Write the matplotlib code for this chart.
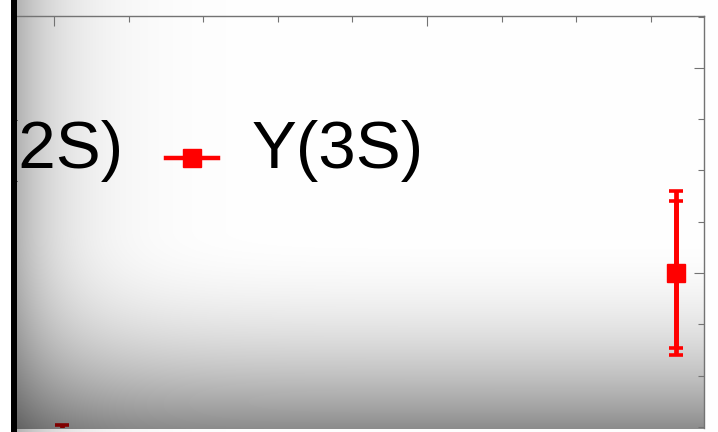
import numpy as np
import matplotlib
matplotlib.use("Agg")
import matplotlib.pyplot as plt
from matplotlib.lines import Line2D
from matplotlib.patches import Rectangle
from matplotlib.ticker import MultipleLocator

plt.rcParams["font.family"] = ["Liberation Sans", "DejaVu Sans"]

# values read off the crop (no tick labels visible, so axis units are relative)
states = ["Y(2S)", "Y(3S)"]
colors = ["#800000", "#ff0000"]
x_vals = [102.1, 266.8]
y_vals = [0.160, 0.400]
stat_lo = [0.080, 0.073]
stat_hi = [0.080, 0.070]
tot_err = [0.092, 0.080]

W, H = 718, 432
fig = plt.figure(figsize=(W / 100, H / 100), dpi=100)

# grey vignette behind the pad
xx = np.arange(W)[None, :]
yy = np.arange(H)[:, None]
left = 0.30 * np.exp(-(xx - 17) / 48.0) * (xx >= 17)
bottom = 0.45 * np.clip((yy - 230) / 198.0, 0, 1) ** 2 * ((xx >= 17) & (xx <= 704) & (yy <= 428))
g = (1 - left) * (1 - bottom)
img = np.dstack([g, g, g])
fig.figimage(img, xo=0, yo=0, origin="upper", zorder=-1)

ax = fig.add_axes([17 / W, 1 - 428 / H, (704 - 17) / W, (428 - 16) / H])
ax.set_facecolor("none")
ax.set_xlim(90.08, 274.26)
ax.set_ylim(0.2488, 0.6507)
ax.xaxis.set_major_locator(MultipleLocator(100))
ax.xaxis.set_minor_locator(MultipleLocator(20))
ax.yaxis.set_major_locator(MultipleLocator(0.2))
ax.yaxis.set_minor_locator(MultipleLocator(0.05))
for side in ["left", "bottom"]:
    ax.spines[side].set_visible(False)
for side in ["top", "right"]:
    ax.spines[side].set_color("0.45")
    ax.spines[side].set_linewidth(1.0)
ax.tick_params(which="both", direction="in", top=True, right=True, bottom=False, left=False,
               labelbottom=False, labelleft=False, colors="0.45", width=0.8)
ax.tick_params(which="major", length=7.5)
ax.tick_params(which="minor", length=4.2)

for i in range(len(states)):
    ax.errorbar(x_vals[i], y_vals[i], yerr=[[tot_err[i]], [tot_err[i]]], fmt="none",
                ecolor=colors[i], elinewidth=3.4, capsize=4.8, capthick=2.6)
    ax.errorbar(x_vals[i], y_vals[i], yerr=[[stat_lo[i]], [stat_hi[i]]], fmt="s",
                color=colors[i], ms=13, elinewidth=3.4, capsize=4.8, capthick=2.6)

handles = [Line2D([], [], color=c, marker="s", ms=13, lw=3.2) for c in colors]
ax.legend(handles, states, loc="center left", bbox_to_anchor=(-133 / W, 1 - 151 / H),
          bbox_transform=fig.transFigure, ncol=2, frameon=False, fontsize=48.5,
          handlelength=0.76, handleheight=-0.6, handletextpad=0.5, columnspacing=0.63,
          borderpad=0, borderaxespad=0)

# left edge of the cropped pad
fig.add_artist(Rectangle((0, 0), 11 / W, 1, transform=fig.transFigure,
                         facecolor="white", edgecolor="none", zorder=10))
fig.add_artist(Rectangle((11 / W, 0), 6 / W, 1, transform=fig.transFigure,
                         facecolor="black", edgecolor="none", zorder=10))

fig.savefig("out.png", dpi=100)
